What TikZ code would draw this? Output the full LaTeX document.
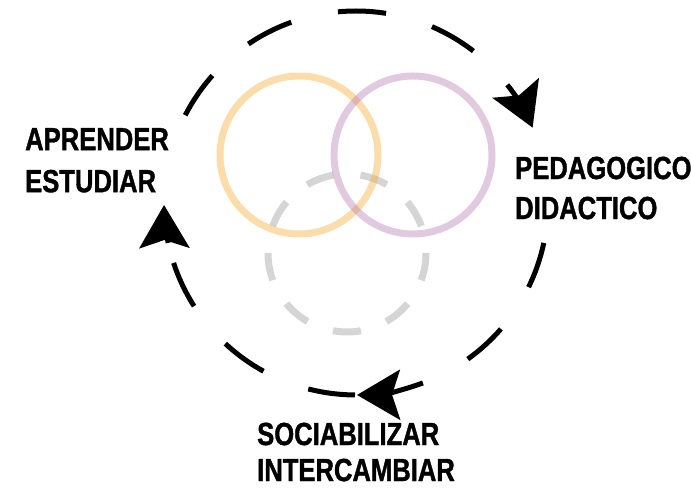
\documentclass[tikz,border=0pt]{standalone}
\usepackage{fontspec}
\newfontfamily\labelfont[FakeStretch=0.8, FakeBold=1.2]{Liberation Sans}
\usetikzlibrary{arrows.meta}
\definecolor{ringorange}{RGB}{245,168,45}
\definecolor{ringpurple}{RGB}{180,120,175}
\definecolor{ringgrey}{RGB}{150,150,150}
\tikzset{
  ring/.style={line width=7pt, draw opacity=0.4},
  cyclebar/.style={line width=5pt, line cap=butt},
  cycletip/.style={cyclebar, -{Stealth[length=43pt, width=50pt, inset=8pt]}},
  lbl/.style={anchor=north west, inner sep=0pt, align=left,
    font=\labelfont\bfseries\fontsize{32}{#1}\selectfont},
  lbl/.default=41pt,
}

\begin{document}
\begin{tikzpicture}[x=1pt, y=1pt]
  \useasboundingbox (0,0) rectangle (691,494);
  \coordinate (hub) at (356,291);
  \coordinate (orange) at (299,339);
  \coordinate (purple) at (413,339);
  \coordinate (grey) at (347,241);
  % the three rings
  \draw[ring, ringgrey, dash pattern=on 28pt off 27.15pt]
    (grey) ++(-100.15:79pt) arc[start angle=-100.15, end angle=259.85, radius=79pt];
  \draw[ring, ringorange] (orange) circle[radius=79pt];
  \draw[ring, ringpurple] (purple) circle[radius=79pt];
  % dashed cycle, clockwise
  \foreach \a/\b in {152.8/138.4, 124.1/109.7, 95.4/81, 66.7/52.3,
                     -12/-26, -41/-54.4,
                     -90.3/-104.4, -118.8/-132.9, -147.5/-161.8}
    \draw[cyclebar] (hub) ++(\a:192pt) arc[start angle=\a, end angle=\b, radius=192pt];
  \foreach \a/\b in {38/23.1, -69.6/-89.7, -168/-179.4}
    \draw[cycletip] (hub) ++(\a:192pt) arc[start angle=\a, end angle=\b, radius=192pt];
  % labels
  \node[lbl=42pt] (aprender) at (25,366) {APRENDER\\ESTUDIAR};
  \node[lbl=40pt] (pedagogico) at (515,337.5) {PEDAGOGICO\\DIDACTICO};
  \node[lbl=36pt] (sociabilizar) at (257,71.5) {SOCIABILIZAR\\INTERCAMBIAR};
\end{tikzpicture}
\end{document}
